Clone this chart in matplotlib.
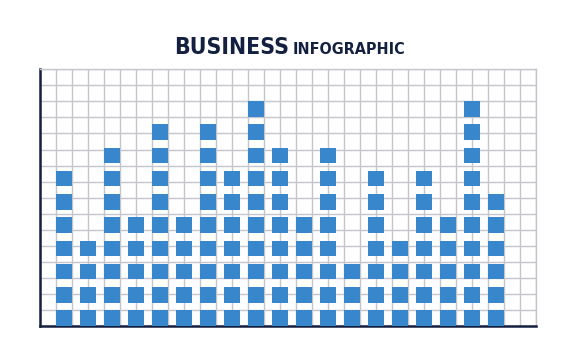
import matplotlib
matplotlib.use("Agg")
import matplotlib.pyplot as plt
from matplotlib import font_manager as fm

# Data: number of stacked blocks per column
columns = list(range(1, 20))
block_counts = [7, 4, 8, 5, 9, 5, 9, 7, 10, 8, 5, 8, 3, 7, 4, 7, 5, 10, 6]
title_main = "BUSINESS"
title_sub = "INFOGRAPHIC"

BLUE = "#3886cb"
GRID = "#c5c6cc"
NAVY = "#14203f"

# pick a condensed bold font if one is installed
cond = None
for f in fm.fontManager.ttflist:
    name = (f.name + " " + f.fname).lower()
    if ("condensed" in name or "narrow" in name) and str(f.weight) in ("bold", "700") and f.style == "normal":
        cond = f.fname
        break

fig = plt.figure(figsize=(5.76, 3.6), dpi=100)
ax = fig.add_axes([40/576, 34/360, 496/576, 256.7/360])
ax.set_xlim(0, 31)
ax.set_ylim(0, 16)

ax.set_xticks(range(32))
ax.set_yticks(range(17))
ax.tick_params(length=0, labelbottom=False, labelleft=False)
ax.grid(True, color=GRID, linewidth=1.0)
ax.set_axisbelow(True)

pitch = 1.45
h = 0.97
max_n = max(block_counts)
for k in range(max_n):
    xs = [1.5 + 1.5 * (c - 1) for c, n in zip(columns, block_counts) if n > k]
    ax.bar(xs, [h] * len(xs), width=1.0, bottom=k * pitch, color=BLUE,
           edgecolor="none", zorder=3)

for side in ["top", "right"]:
    ax.spines[side].set_color(GRID)
    ax.spines[side].set_linewidth(1.0)
for side in ["left", "bottom"]:
    ax.spines[side].set_color(NAVY)
    ax.spines[side].set_linewidth(1.8)

if cond:
    fp_main = fm.FontProperties(fname=cond, size=16.5)
    fp_sub = fm.FontProperties(fname=cond, size=11.5)
else:
    fp_main = fm.FontProperties(family=["Roboto", "DejaVu Sans"], weight="bold", size=16)
    fp_sub = fm.FontProperties(family=["Roboto", "DejaVu Sans"], weight="bold", size=10)

t1 = fig.text(174/576, (360-54)/360, title_main, fontproperties=fp_main,
              color=NAVY, ha="left", va="baseline")
fig.canvas.draw()
bb = t1.get_window_extent()
fig.text((bb.x1 + 4)/576, (360-54)/360, title_sub, fontproperties=fp_sub,
         color=NAVY, ha="left", va="baseline")

fig.savefig("out.png", dpi=100)
